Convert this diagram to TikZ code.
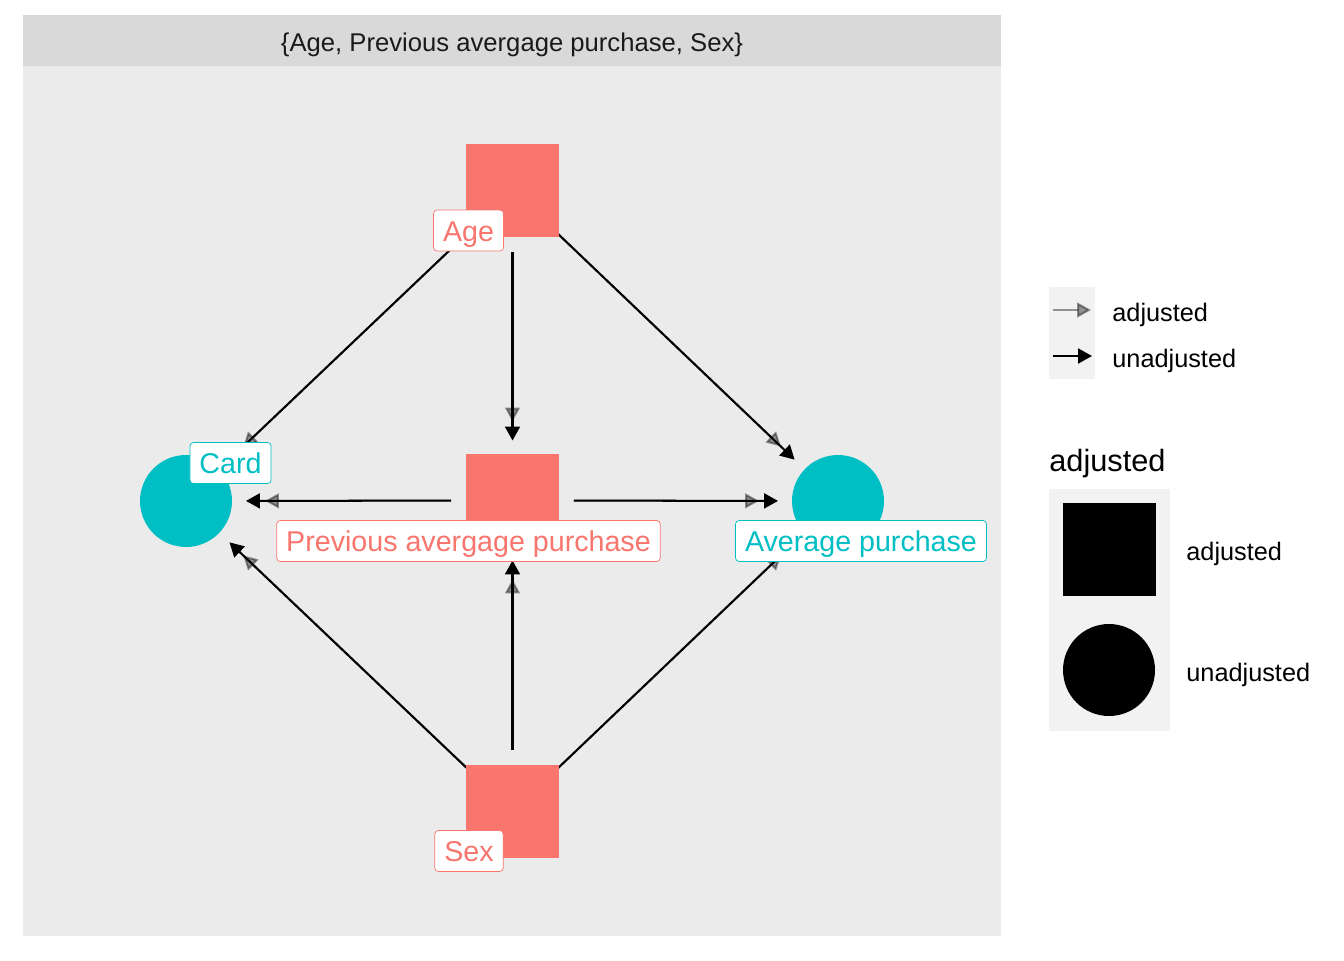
\documentclass[tikz,border=0pt]{standalone}
\usepackage{fontspec}
\setmainfont{Liberation Sans}
\usepackage{xcolor}
\usepackage{tikz}
\usetikzlibrary{arrows.meta, positioning}
\definecolor{exposred}{HTML}{F8766D}
\definecolor{outcyan}{HTML}{00BFC4}
\definecolor{panelgray}{HTML}{EBEBEB}
\definecolor{stripgray}{HTML}{D9D9D9}
\definecolor{keygray}{HTML}{F2F2F2}
\definecolor{inkgray}{HTML}{1A1A1A}
\pgfdeclarelayer{panel}
\pgfdeclarelayer{edges}
\pgfsetlayers{panel,edges,main}

\begin{document}
\begin{tikzpicture}[x=0.02cm, y=-0.02cm,
                adjnode/.style={rectangle, fill=exposred, minimum size=1.86cm, inner sep=0pt},
                freenode/.style={circle, fill=outcyan, minimum size=1.84cm, inner sep=0pt},
                tag/.style={draw=#1, text=#1, fill=white, rounded corners=2pt,
                            line width=0.4pt, inner xsep=5.4pt, inner ysep=0pt,
                            minimum height=0.82cm, text height=13pt, text depth=1pt,
                            font=\fontsize{16.3}{19}\selectfont},
                unadj/.style={-{Triangle[length=0.28cm, width=0.3cm]}, line width=1.15pt,
                              black, shorten <=1.23cm, shorten >=1.2cm},
                adj/.style={-{Triangle[length=0.28cm, width=0.3cm]}, line width=1.15pt,
                            black, opacity=0.4, shorten <=1.23cm, shorten >=1.58cm},
                keytext/.style={anchor=base west, inner sep=0pt, text=black,
                                font=\fontsize{14.4}{17}\selectfont}]
                \useasboundingbox (0,0) rectangle (1344,960);

                \begin{pgfonlayer}{panel}
                \fill[panelgray] (23,66) rectangle (1001,936);
                \fill[stripgray] (23,15) rectangle (1001,66);
                \fill[keygray] (1049,287) rectangle (1095,379);
                \fill[keygray] (1049,489) rectangle (1170,731);
                \end{pgfonlayer}

                \node[inkgray, font=\fontsize{14.6}{17}\selectfont] (strip) at (512,44.5)
                      {\{Age, Previous avergage purchase, Sex\}};

                \node[adjnode] (age) at (512.5,190.5) {};
                \node[adjnode] (prev) at (512.5,500.5) {};
                \node[adjnode] (sex) at (512.5,811.5) {};
                \node[freenode] (card) at (186,501) {};
                \node[freenode] (avg) at (838,501) {};

                \begin{pgfonlayer}{edges}
                \draw[adj] (age.center) -- (card.center);
                \draw[adj] (age.center) -- (prev.center);
                \draw[adj] (age.center) -- (avg.center);
                \draw[adj] (prev.center) -- (card.center);
                \draw[adj] (prev.center) -- (avg.center);
                \draw[adj] (sex.center) -- (card.center);
                \draw[adj] (sex.center) -- (prev.center);
                \draw[adj] (sex.center) -- (avg.center);
                \draw[unadj] (age.center) -- (card.center);
                \draw[unadj] (age.center) -- (prev.center);
                \draw[unadj] (age.center) -- (avg.center);
                \draw[unadj] (prev.center) -- (card.center);
                \draw[unadj] (prev.center) -- (avg.center);
                \draw[unadj] (sex.center) -- (card.center);
                \draw[unadj] (sex.center) -- (prev.center);
                \draw[unadj] (sex.center) -- (avg.center);
                \end{pgfonlayer}

                \node[tag=exposred] (agetag) at (468.5,230.5) {Age};
                \node[tag=outcyan] (cardtag) at (230.5,463) {Card};
                \node[tag=exposred] (prevtag) at (468.5,541) {Previous avergage purchase};
                \node[tag=outcyan] (avgtag) at (861,541) {Average purchase};
                \node[tag=exposred] (sextag) at (469,851) {Sex};

                \coordinate (adjfrom) at (1053,310);
                \coordinate (adjto) at (1091,310);
                \coordinate (unadjfrom) at (1053,356);
                \coordinate (unadjto) at (1092,356);
                \draw[adj, shorten <=0pt, shorten >=0pt] (adjfrom) -- (adjto);
                \draw[unadj, shorten <=0pt, shorten >=0pt] (unadjfrom) -- (unadjto);
                \node[keytext] (adjlab) at (1112,321) {adjusted};
                \node[keytext] (unadjlab) at (1112,367) {unadjusted};

                \node[keytext, font=\fontsize{17.5}{20}\selectfont] (shapetitle) at (1049,471) {adjusted};
                \node[rectangle, fill=black, minimum size=1.86cm, inner sep=0pt] (keysq) at (1109.5,549.5) {};
                \node[circle, fill=black, minimum size=1.84cm, inner sep=0pt] (keyci) at (1109,670) {};
                \node[keytext] (sqlab) at (1186,560) {adjusted};
                \node[keytext] (cilab) at (1186,681) {unadjusted};
\end{tikzpicture}
\end{document}
